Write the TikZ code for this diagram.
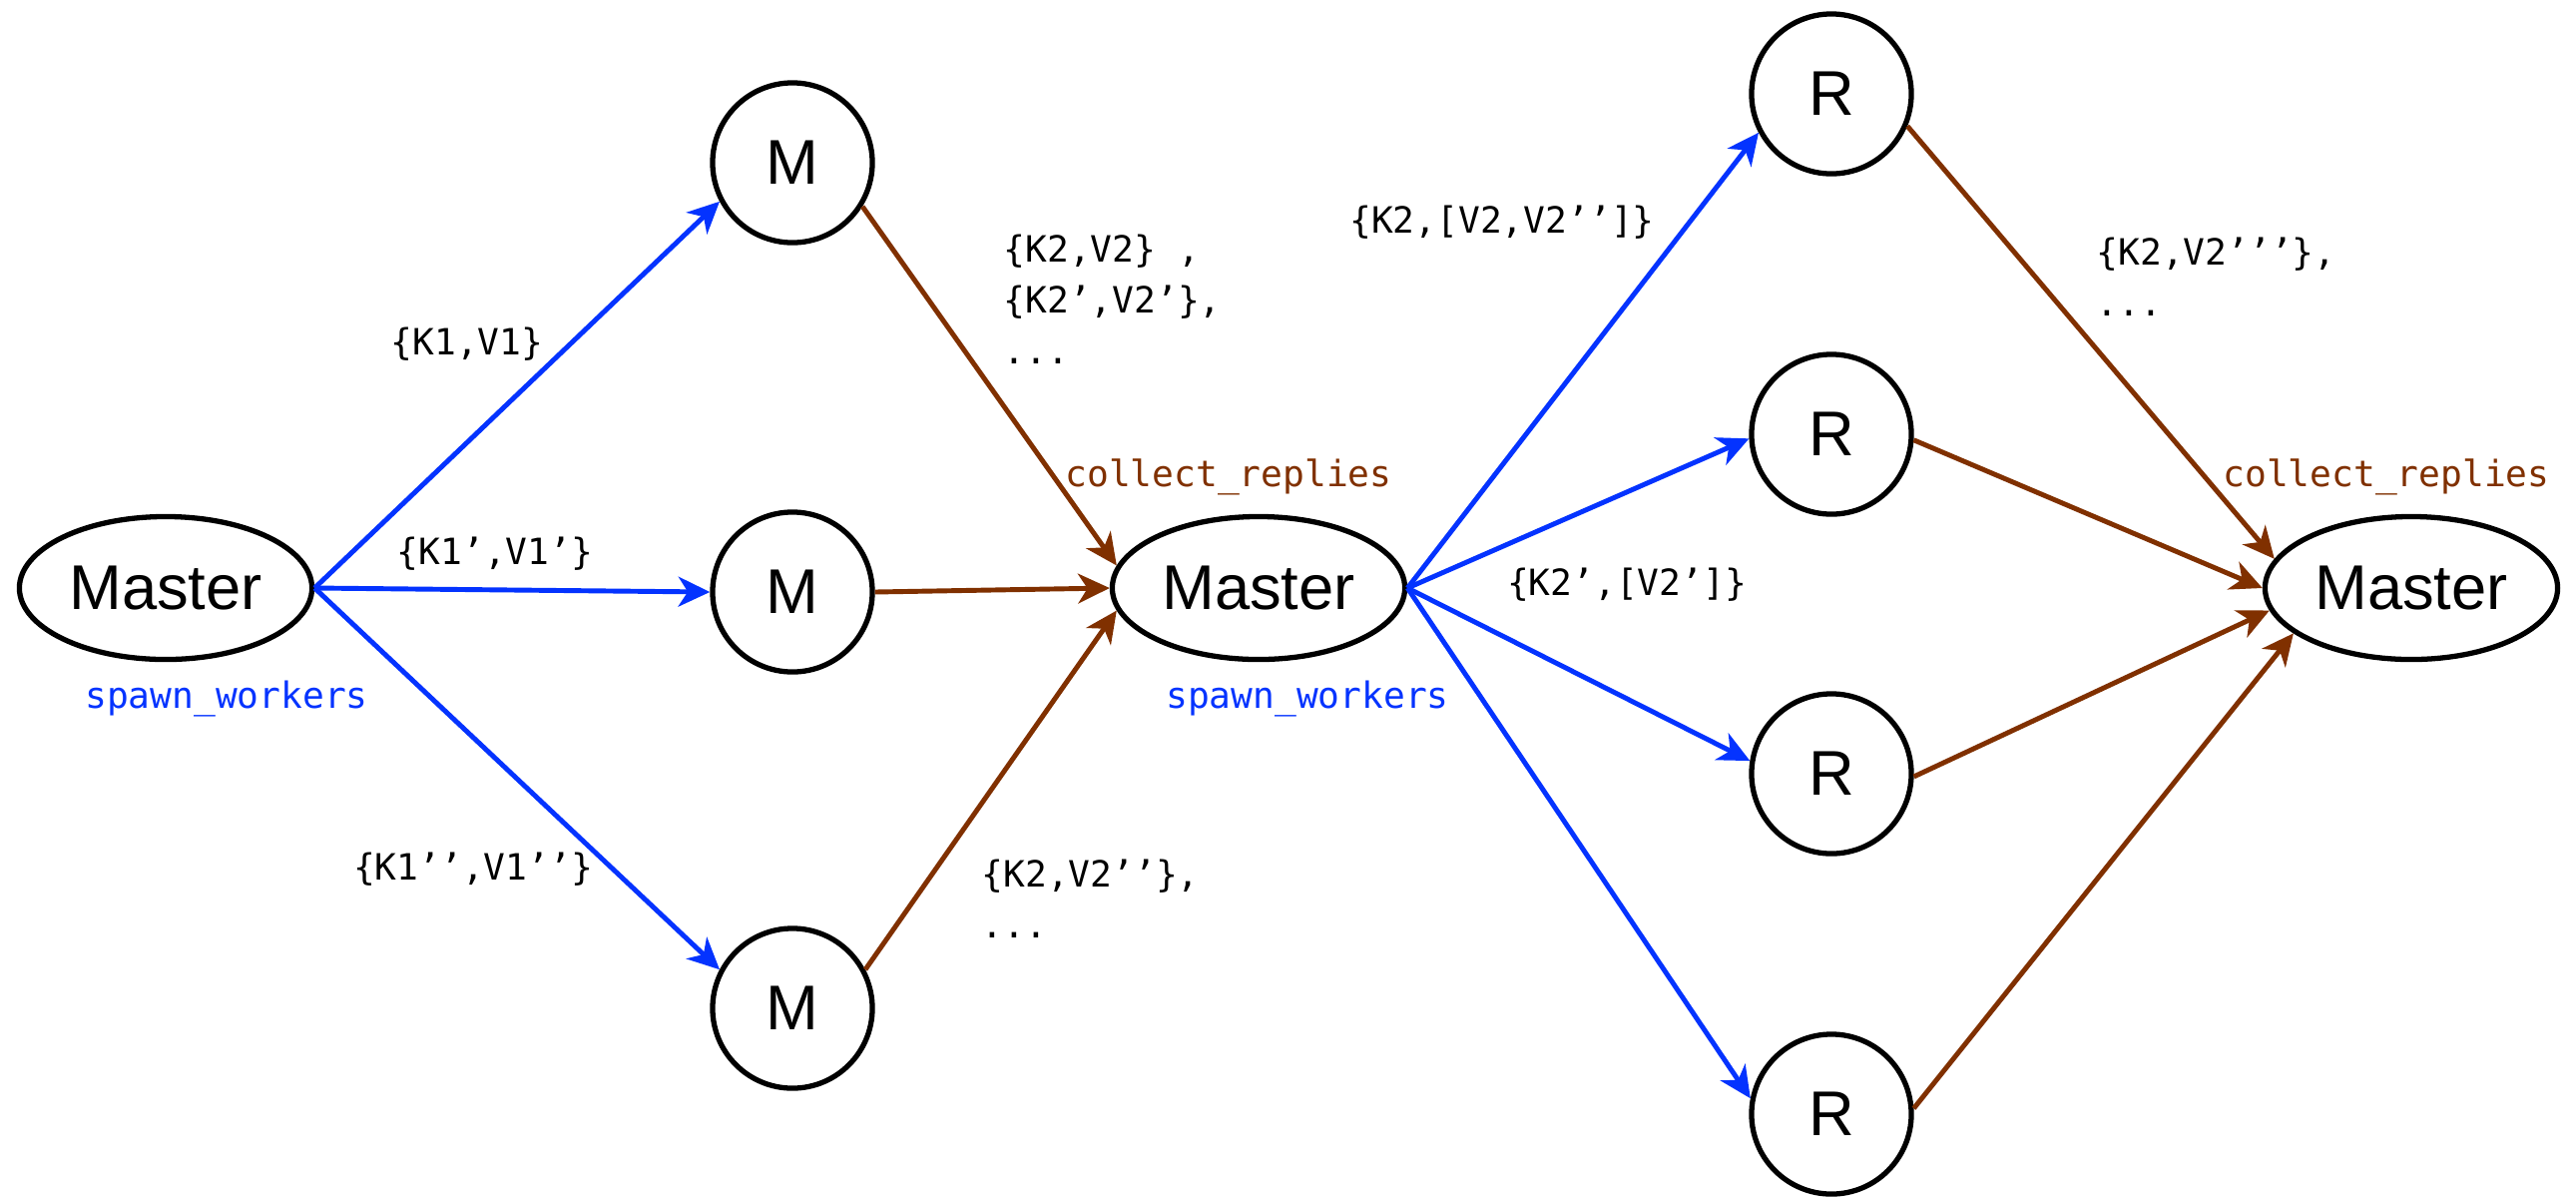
\documentclass[tikz,border=0pt]{standalone}
\usepackage{fontspec}
\setmainfont{Liberation Sans}
\setmonofont{DejaVu Sans Mono}
\usetikzlibrary{arrows.meta,shapes,positioning}
\definecolor{spawnblue}{RGB}{4,51,255}
\definecolor{replybrown}{RGB}{128,48,0}
\tikzset{
  basic/.style  = {draw, line width=1.5pt, font=\fontsize{18}{20}\selectfont, inner sep=0pt},
  master/.style = {basic, ellipse, minimum width=2.93cm, minimum height=1.43cm},
  worker/.style = {basic, circle, minimum size=1.6cm},
  kv/.style     = {font=\fontsize{10.3}{14.5}\selectfont\ttfamily, inner sep=0pt, align=left},
  spawn/.style  = {->, draw=spawnblue, line width=1.4pt},
  reply/.style  = {->, draw=replybrown, line width=1.4pt}
}
\begin{document}
\begin{tikzpicture}[
  x=0.01cm, y=-0.01cm,
  >={Stealth[length=9pt,width=8.5pt,inset=2.7pt]}]

%\draw[help lines, color=gray!30, dashed] (0,0) grid[step=100] (2581,1199);
\useasboundingbox (0,0) rectangle (2581,1199);

\node[master] at (166,589) (Master1) {Master};
\node[master] at (1261,589) (Master2) {Master};
\node[master] at (2416,589) (Master3) {Master};

\foreach \y [count=\yi] in {163,593,1010}{
    \node[worker] at (794,\y) (M\yi) {M};
    }

\foreach \y [count=\yi] in {94,435,775,1116}{
    \node[worker] at (1835,\y) (R\yi) {R};
    }

% map phase
\foreach \a [count=\i] in {208,180,152}{
    \draw[spawn] (Master1.east) -- (M\i.\a);
    }
\foreach \s/\t [count=\i] in {-32/171,0/180,28/189}{
    \draw[reply] (M\i.\s) -- (Master2.\t);
    }

% reduce phase
\foreach \a [count=\i] in {208,183,171,169}{
    \draw[spawn] (Master2.east) -- (R\i.\a);
    }
\foreach \s/\t [count=\i] in {-23/168,-4/180,-2/189,4/201}{
    \draw[reply] (R\i.\s) -- (Master3.\t);
    }

\node[kv] at (468,345) (KVone) {\{K1,V1\}};
\node[kv] at (496,555) (KVtwo) {\{K1’,V1’\}};
\node[kv] at (474,871) (KVthree) {\{K1’’,V1’’\}};
\node[kv, text=spawnblue] at (227,700) (SpawnOne) {spawn\_workers};
\node[kv, text=spawnblue] at (1310,700) (SpawnTwo) {spawn\_workers};
\node[kv, text=replybrown] at (1231,478) (CollectOne) {collect\_replies};
\node[kv, text=replybrown] at (2391,478) (CollectTwo) {collect\_replies};

\node[kv, anchor=west] at (1005,300) (MapOut) {\{K2,V2\} ,\\\{K2’,V2’\},\\...};
\node[kv, anchor=west] at (983,900) (MapOutThree) {\{K2,V2’’\},\\...};
\node[kv] at (1505,223) (RedInOne) {\{K2,[V2,V2’’]\}};
\node[kv] at (1630,586) (RedInTwo) {\{K2’,[V2’]\}};
\node[kv, anchor=west] at (2100,277) (RedOut) {\{K2,V2’’’\},\\...};

\end{tikzpicture}
\end{document}
